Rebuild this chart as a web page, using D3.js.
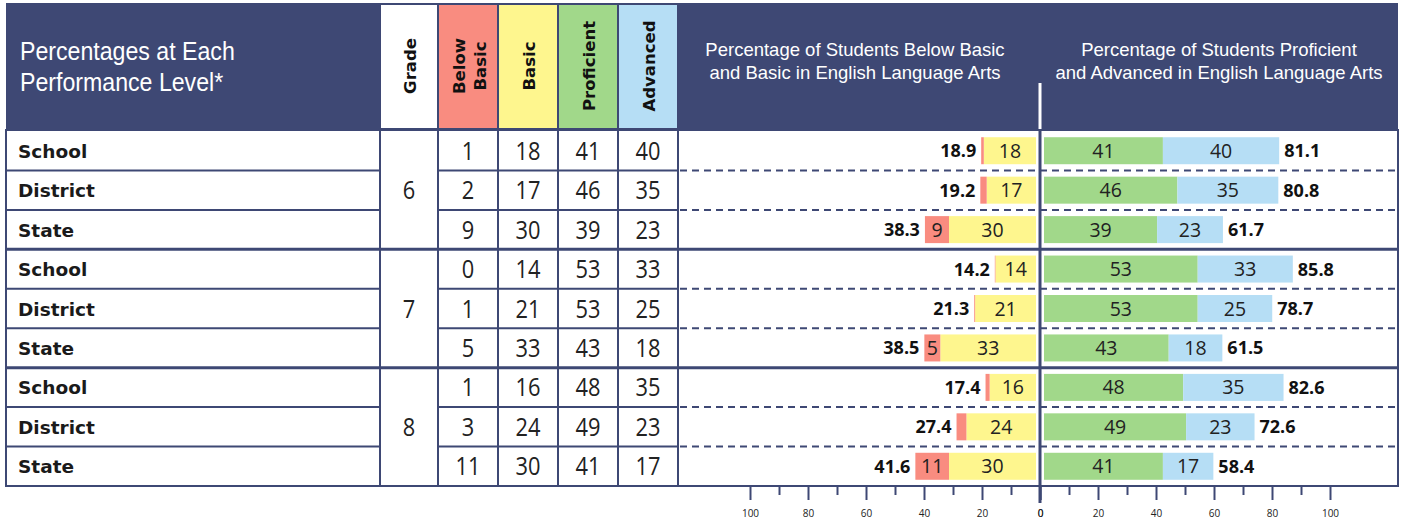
<!DOCTYPE html>
<html>
<head>
<meta charset="utf-8">
<script src="https://cdn.jsdelivr.net/npm/d3@7"></script>
<style>
  body { margin: 0; background: #fff; }
</style>
</head>
<body>
<svg width="1405" height="522"></svg>
<script>
// data
var levels = ["School", "District", "State", "School", "District", "State", "School", "District", "State"];
var grades = [6, 7, 8];
var belowBasic = [1, 2, 9, 0, 1, 5, 1, 3, 11];
var basic = [18, 17, 30, 14, 21, 33, 16, 24, 30];
var proficient = [41, 46, 39, 53, 53, 43, 48, 49, 41];
var advanced = [40, 35, 23, 33, 25, 18, 35, 23, 17];
var belowTotal = [18.9, 19.2, 38.3, 14.2, 21.3, 38.5, 17.4, 27.4, 41.6];
var aboveTotal = [81.1, 80.8, 61.7, 85.8, 78.7, 61.5, 82.6, 72.6, 58.4];
var axisTicks = [0, 20, 40, 60, 80, 100];
var minorTicks = [10, 30, 50, 70, 90];

var navy = "#3e4874",
    cRed = "#f98c80",
    cYellow = "#fef68e",
    cGreen = "#a1d88a",
    cBlue = "#b6def5";

var svg = d3.select("svg");

var leftX = 6, rightX = 1398, headTop = 3, headBottom = 130, bottomY = 486, mid = 1040;

// rows
var y = d3.scaleBand().domain(d3.range(9)).range([headBottom + 1, bottomY]);
var barH = 27;
var rowMid = function(i) { return y(i) + y.bandwidth() / 2; };

// table columns: grade, below basic, basic, proficient, advanced
var cols = [380, 438, 498, 558, 618, 678];
var colMid = function(i) { return (cols[i] + cols[i + 1]) / 2; };

// scales for the two bar charts
var xl = d3.scaleLinear().domain([0, 100]).range([mid, mid - 290]);
var xr = d3.scaleLinear().domain([0, 100]).range([mid, mid + 290]);
var gap = 4;

// condensed look: squeeze text horizontally
function squeeze(x, yy, s) {
  return "translate(" + x + "," + yy + ") scale(" + s + ",1)";
}

// header background
svg.append("rect")
  .attr("x", leftX).attr("y", headTop)
  .attr("width", rightX - leftX).attr("height", headBottom - headTop)
  .attr("fill", navy);

["Percentages at Each", "Performance Level*"].forEach(function(s, i) {
  svg.append("text")
    .attr("transform", squeeze(20, 60 + i * 31, 0.89))
    .attr("fill", "#fff")
    .attr("font-family", "'Liberation Sans', Arial, sans-serif")
    .attr("font-size", "26px")
    .text(s);
});

// coloured header cells
var headFills = ["#fff", cRed, cYellow, cGreen, cBlue];
var headLabels = [["Grade"], ["Below", "Basic"], ["Basic"], ["Proficient"], ["Advanced"]];
headFills.forEach(function(f, i) {
  svg.append("rect")
    .attr("x", cols[i] + 1).attr("y", 5)
    .attr("width", cols[i + 1] - cols[i] - 2).attr("height", headBottom - 7)
    .attr("fill", f);
  var lines = headLabels[i];
  var t = svg.append("text")
    .attr("transform", "translate(" + colMid(i) + ",66) rotate(-90)")
    .attr("text-anchor", "middle")
    .attr("font-family", "'DejaVu Sans', sans-serif")
    .attr("font-weight", "bold")
    .attr("font-size", "16.5px")
    .attr("fill", "#111");
  lines.forEach(function(s, j) {
    t.append("tspan")
      .attr("x", 0)
      .attr("y", (j - (lines.length - 1) / 2) * 21 + 7)
      .text(s);
  });
});

// headers of the bar charts
[[855, ["Percentage of Students Below Basic", "and Basic in English Language Arts"]],
 [1219, ["Percentage of Students Proficient", "and Advanced in English Language Arts"]]].forEach(function(h) {
  svg.append("text")
    .attr("text-anchor", "middle")
    .attr("fill", "#fff")
    .attr("font-family", "'Liberation Sans', Arial, sans-serif")
    .attr("font-size", "18.5px")
    .selectAll("tspan")
    .data(h[1])
    .enter().append("tspan")
    .attr("x", h[0])
    .attr("y", function(d, i) { return 56 + i * 23; })
    .text(function(d) { return d; });
});

svg.append("line")
  .attr("x1", mid).attr("x2", mid)
  .attr("y1", 83).attr("y2", headBottom)
  .attr("stroke", "#fff").attr("stroke-width", 3);

// row lines
var g = svg.append("g");
d3.range(1, 9).forEach(function(i) {
  var yy = y(i);
  if (i % 3 === 0) {
    g.append("line")
      .attr("x1", leftX).attr("x2", rightX)
      .attr("y1", yy).attr("y2", yy)
      .attr("stroke", navy).attr("stroke-width", 3);
  } else {
    g.append("line").attr("x1", leftX).attr("x2", cols[0]).attr("y1", yy).attr("y2", yy)
      .attr("stroke", navy).attr("stroke-width", 2);
    g.append("line").attr("x1", cols[1]).attr("x2", cols[5]).attr("y1", yy).attr("y2", yy)
      .attr("stroke", navy).attr("stroke-width", 2);
    g.append("line").attr("x1", cols[5] + 2).attr("x2", rightX).attr("y1", yy).attr("y2", yy)
      .attr("stroke", navy).attr("stroke-width", 2)
      .attr("stroke-dasharray", "7,5");
  }
});

// column lines
cols.forEach(function(c) {
  g.append("line")
    .attr("x1", c).attr("x2", c)
    .attr("y1", headBottom).attr("y2", bottomY)
    .attr("stroke", navy).attr("stroke-width", 2);
});

// row labels
svg.selectAll(".lvl")
  .data(levels)
  .enter().append("text")
  .attr("x", 18)
  .attr("y", function(d, i) { return rowMid(i) + 7; })
  .attr("font-family", "'DejaVu Sans', sans-serif")
  .attr("font-weight", "bold")
  .attr("font-size", "18.5px")
  .attr("fill", "#1a1a1a")
  .text(function(d) { return d; });

// grade numbers
svg.selectAll(".grade")
  .data(grades)
  .enter().append("text")
  .attr("transform", function(d, i) { return squeeze(colMid(0), rowMid(i * 3 + 1) + 9, 0.84); })
  .attr("text-anchor", "middle")
  .attr("font-family", "'Open Sans', sans-serif")
  .attr("font-size", "26px")
  .attr("fill", "#222")
  .text(function(d) { return d; });

// number columns
[belowBasic, basic, proficient, advanced].forEach(function(arr, c) {
  svg.selectAll(".num" + c)
    .data(arr)
    .enter().append("text")
    .attr("transform", function(d, i) { return squeeze(colMid(c + 1), rowMid(i) + 9, 0.84); })
    .attr("text-anchor", "middle")
    .attr("font-family", "'Open Sans', sans-serif")
    .attr("font-size", "26px")
    .attr("fill", "#222")
    .text(function(d) { return d; });
});

// bar segments
var segs = [];
d3.range(9).forEach(function(i) {
  var yb = rowMid(i) - barH / 2;
  // left side: basic next to the axis, below basic outside it
  segs.push({ x0: xl(basic[i]) - gap, x1: xl(0) - gap, y: yb, fill: cYellow, label: basic[i], show: true });
  segs.push({ x0: xl(belowTotal[i]) - gap, x1: xl(basic[i]) - gap, y: yb, fill: cRed, label: belowBasic[i], show: belowBasic[i] >= 5 });
  // right side
  segs.push({ x0: xr(0) + gap, x1: xr(proficient[i]) + gap, y: yb, fill: cGreen, label: proficient[i], show: true });
  segs.push({ x0: xr(proficient[i]) + gap, x1: xr(aboveTotal[i]) + gap, y: yb, fill: cBlue, label: advanced[i], show: true });
});

svg.selectAll(".seg")
  .data(segs)
  .enter().append("rect")
  .attr("x", function(d) { return d.x0; })
  .attr("y", function(d) { return d.y; })
  .attr("width", function(d) { return Math.max(0, d.x1 - d.x0); })
  .attr("height", barH)
  .attr("fill", function(d) { return d.fill; });

svg.selectAll(".segLabel")
  .data(segs.filter(function(d) { return d.show; }))
  .enter().append("text")
  .attr("x", function(d) { return (d.x0 + d.x1) / 2; })
  .attr("y", function(d) { return d.y + barH / 2 + 7; })
  .attr("text-anchor", "middle")
  .attr("font-family", "'Open Sans', sans-serif")
  .attr("font-size", "19.5px")
  .attr("fill", "#222")
  .text(function(d) { return d.label; });

// totals
svg.selectAll(".totL")
  .data(belowTotal)
  .enter().append("text")
  .attr("x", function(d) { return xl(d) - gap - 5; })
  .attr("y", function(d, i) { return rowMid(i) + 6.5; })
  .attr("text-anchor", "end")
  .attr("font-family", "'Open Sans', sans-serif")
  .attr("font-weight", "bold")
  .attr("font-size", "18px")
  .attr("fill", "#111")
  .text(function(d) { return d.toFixed(1); });

svg.selectAll(".totR")
  .data(aboveTotal)
  .enter().append("text")
  .attr("x", function(d) { return xr(d) + gap + 5; })
  .attr("y", function(d, i) { return rowMid(i) + 6.5; })
  .attr("font-family", "'Open Sans', sans-serif")
  .attr("font-weight", "bold")
  .attr("font-size", "18px")
  .attr("fill", "#111")
  .text(function(d) { return d.toFixed(1); });

// outer frame of the body
svg.append("rect")
  .attr("x", leftX).attr("y", headBottom)
  .attr("width", rightX - leftX).attr("height", bottomY - headBottom)
  .attr("fill", "none")
  .attr("stroke", navy).attr("stroke-width", 2);

// axes under the bars
[xl, xr].forEach(function(sc) {
  var major = svg.append("g")
    .attr("transform", "translate(0," + (bottomY + 1) + ")")
    .call(d3.axisBottom(sc).tickValues(axisTicks).tickSize(13).tickPadding(10));
  major.select(".domain").remove();
  major.selectAll("line").attr("stroke", navy).attr("stroke-width", 2);
  major.selectAll("text")
    .attr("font-family", "'Open Sans', sans-serif")
    .attr("font-size", "10px")
    .attr("fill", "#222");
  var minor = svg.append("g")
    .attr("transform", "translate(0," + (bottomY + 1) + ")")
    .call(d3.axisBottom(sc).tickValues(minorTicks).tickSize(8).tickFormat(""));
  minor.select(".domain").remove();
  minor.selectAll("line").attr("stroke", navy).attr("stroke-width", 2);
});

// centre line
svg.append("line")
  .attr("x1", mid).attr("x2", mid)
  .attr("y1", headBottom).attr("y2", 503)
  .attr("stroke", navy).attr("stroke-width", 3);
</script>
</body>
</html>
